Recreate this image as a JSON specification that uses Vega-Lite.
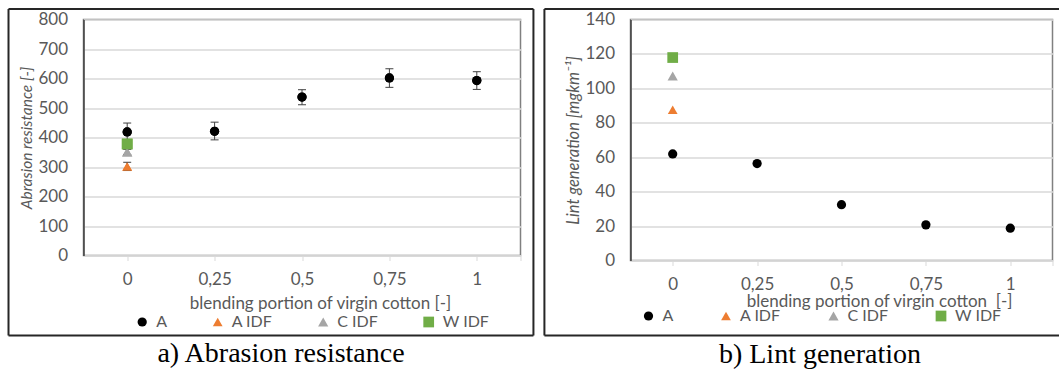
{
  "$schema": "https://vega.github.io/schema/vega-lite/v6.json",
  "background": "white",
  "padding": {"left": 6.5, "top": 6.5, "right": 0, "bottom": 0},
  "spacing": 7,
  "resolve": {"scale": {"color": "independent", "shape": "independent", "size": "independent"}, "legend": {"color": "independent", "shape": "independent"}},
  "datasets": {
    "abr": [
      {"series": "A", "x": 0, "y": 419, "lo": 389, "hi": 449},
      {"series": "A", "x": 0.25, "y": 421, "lo": 392, "hi": 452},
      {"series": "A", "x": 0.5, "y": 537, "lo": 511, "hi": 562},
      {"series": "A", "x": 0.75, "y": 602, "lo": 570, "hi": 633},
      {"series": "A", "x": 1, "y": 593, "lo": 563, "hi": 623},
      {"series": "A IDF", "x": 0, "y": 302, "lo": 288, "hi": 316},
      {"series": "C IDF", "x": 0, "y": 351, "lo": 342, "hi": 360},
      {"series": "W IDF", "x": 0, "y": 378}
    ],
    "lint": [
      {"series": "A", "x": 0, "y": 61.9},
      {"series": "A", "x": 0.25, "y": 56.3},
      {"series": "A", "x": 0.5, "y": 32.4},
      {"series": "A", "x": 0.75, "y": 20.7},
      {"series": "A", "x": 1, "y": 18.8},
      {"series": "A IDF", "x": 0, "y": 87.6},
      {"series": "C IDF", "x": 0, "y": 107.2},
      {"series": "W IDF", "x": 0, "y": 117.9}
    ]
  },
  "hconcat": [
    {
      "width": 437,
      "height": 236,
      "title": {"text": "a) Abrasion resistance", "orient": "bottom", "anchor": "middle", "frame": "group", "dx": -21, "offset": 4, "font": "Liberation Serif", "fontSize": 28, "fontWeight": "normal", "color": "#000000"},
      "layer": [
        {
          "data": {"name": "abr"},
          "mark": {"type": "point", "filled": true, "opacity": 1},
          "encoding": {
            "x": {
              "field": "x", "type": "quantitative",
              "scale": {"domain": [-0.125, 1.125], "nice": false, "zero": false},
              "axis": {
                "values": [0, 0.25, 0.5, 0.75, 1, 1.125], "tickCount": 12,
                "labelExpr": "datum.value > 1.1 ? '' : replace(format(datum.value, '~g'), '.', ',')",
                "title": "blending portion of virgin cotton [-]",
                "grid": false, "labelFlush": false,
                "domainColor": "#d9d9d9", "domainWidth": 1.5,
                "tickColor": "#d9d9d9", "tickSize": 5, "tickWidth": 1,
                "labelPadding": 24, "labelBaseline": "alphabetic",
                "titleX": 236.5, "titleY": 53, "titleBaseline": "alphabetic"
              }
            },
            "y": {
              "field": "y", "type": "quantitative",
              "scale": {"domain": [0, 800], "nice": false},
              "axis": {
                "values": [0, 100, 200, 300, 400, 500, 600, 700, 800], "tickCount": 12, "labelOverlap": false,
                "title": "Abrasion resistance [-]", "titleFontStyle": "italic", "titleFontSize": 15.5,
                "grid": true, "gridColor": "#d9d9d9", "gridWidth": 1.5,
                "ticks": false, "tickSize": 0, "labelPadding": 16,
                "domainColor": "#404040", "domainWidth": 1.5, "titlePadding": 3
              }
            },
            "color": {
              "field": "series", "type": "nominal",
              "scale": {"domain": ["A", "A IDF", "C IDF", "W IDF"], "range": ["#000000", "#ED7D31", "#A5A5A5", "#70AD47"]},
              "legend": {"orient": "none", "legendX": 50.7, "legendY": 294.5, "direction": "horizontal", "columns": 4, "columnPadding": 42.5, "title": null, "symbolSize": 55, "labelOffset": 6}
            },
            "shape": {
              "field": "series", "type": "nominal",
              "scale": {"domain": ["A", "A IDF", "C IDF", "W IDF"], "range": ["circle", "triangle-up", "triangle-up", "square"]},
              "legend": {"orient": "none", "legendX": 50.7, "legendY": 294.5, "direction": "horizontal", "columns": 4, "columnPadding": 42.5, "title": null, "symbolSize": 55, "labelOffset": 6}
            },
            "size": {
              "field": "series", "type": "nominal",
              "scale": {"domain": ["A", "A IDF", "C IDF", "W IDF"], "range": [85, 115, 115, 85]},
              "legend": null
            }
          }
        },
        {
          "data": {"values": [{}]},
          "mark": {"type": "rule", "color": "#262626", "strokeWidth": 2},
          "encoding": {
            "x": {"datum": -0.3395, "type": "quantitative", "axis": {"values": [0, 0.25, 0.5, 0.75, 1, 1.125], "tickCount": 12, "title": "blending portion of virgin cotton [-]"}},
            "y": {"datum": -271, "type": "quantitative", "axis": {"values": [0, 100, 200, 300, 400, 500, 600, 700, 800], "tickCount": 12, "title": "Abrasion resistance [-]"}},
            "y2": {"datum": 835.6}
          }
        },
        {
          "data": {"values": [{}]},
          "mark": {"type": "rule", "color": "#262626", "strokeWidth": 2},
          "encoding": {
            "x": {"datum": 1.162, "type": "quantitative", "axis": {"values": [0, 0.25, 0.5, 0.75, 1, 1.125], "tickCount": 12, "title": "blending portion of virgin cotton [-]"}},
            "y": {"datum": -271, "type": "quantitative", "axis": {"values": [0, 100, 200, 300, 400, 500, 600, 700, 800], "tickCount": 12, "title": "Abrasion resistance [-]"}},
            "y2": {"datum": 835.6}
          }
        },
        {
          "data": {"values": [{}]},
          "mark": {"type": "rule", "color": "#262626", "strokeWidth": 2},
          "encoding": {
            "x": {"datum": -0.3395, "type": "quantitative", "axis": {"values": [0, 0.25, 0.5, 0.75, 1, 1.125], "tickCount": 12, "title": "blending portion of virgin cotton [-]"}},
            "x2": {"datum": 1.162},
            "y": {"datum": 835.6, "type": "quantitative", "axis": {"values": [0, 100, 200, 300, 400, 500, 600, 700, 800], "tickCount": 12, "title": "Abrasion resistance [-]"}}
          }
        },
        {
          "data": {"values": [{}]},
          "mark": {"type": "rule", "color": "#262626", "strokeWidth": 2},
          "encoding": {
            "x": {"datum": -0.3395, "type": "quantitative", "axis": {"values": [0, 0.25, 0.5, 0.75, 1, 1.125], "tickCount": 12, "title": "blending portion of virgin cotton [-]"}},
            "x2": {"datum": 1.162},
            "y": {"datum": -271, "type": "quantitative", "axis": {"values": [0, 100, 200, 300, 400, 500, 600, 700, 800], "tickCount": 12, "title": "Abrasion resistance [-]"}}
          }
        },
        {
          "data": {"name": "abr"},
          "transform": [{"filter": "isValid(datum.lo)"}],
          "mark": {"type": "rule", "color": "#404040", "strokeWidth": 1},
          "encoding": {
            "x": {"field": "x", "type": "quantitative", "axis": {"values": [0, 0.25, 0.5, 0.75, 1, 1.125], "tickCount": 12, "title": "blending portion of virgin cotton [-]"}},
            "y": {"field": "lo", "type": "quantitative", "axis": {"values": [0, 100, 200, 300, 400, 500, 600, 700, 800], "tickCount": 12, "title": "Abrasion resistance [-]"}},
            "y2": {"field": "hi"}
          }
        },
        {
          "data": {"name": "abr"},
          "transform": [{"filter": "isValid(datum.lo)"}],
          "mark": {"type": "point", "shape": "stroke", "size": 64, "strokeWidth": 1, "color": "#404040", "filled": false, "opacity": 1},
          "encoding": {
            "x": {"field": "x", "type": "quantitative", "axis": {"values": [0, 0.25, 0.5, 0.75, 1, 1.125], "tickCount": 12, "title": "blending portion of virgin cotton [-]"}},
            "y": {"field": "lo", "type": "quantitative", "axis": {"values": [0, 100, 200, 300, 400, 500, 600, 700, 800], "tickCount": 12, "title": "Abrasion resistance [-]"}}
          }
        },
        {
          "data": {"name": "abr"},
          "transform": [{"filter": "isValid(datum.hi)"}],
          "mark": {"type": "point", "shape": "stroke", "size": 64, "strokeWidth": 1, "color": "#404040", "filled": false, "opacity": 1},
          "encoding": {
            "x": {"field": "x", "type": "quantitative", "axis": {"values": [0, 0.25, 0.5, 0.75, 1, 1.125], "tickCount": 12, "title": "blending portion of virgin cotton [-]"}},
            "y": {"field": "hi", "type": "quantitative", "axis": {"values": [0, 100, 200, 300, 400, 500, 600, 700, 800], "tickCount": 12, "title": "Abrasion resistance [-]"}}
          }
        },
        {
          "data": {"name": "abr"},
          "mark": {"type": "point", "filled": true, "opacity": 1},
          "encoding": {
            "x": {"field": "x", "type": "quantitative", "axis": {"values": [0, 0.25, 0.5, 0.75, 1, 1.125], "tickCount": 12, "title": "blending portion of virgin cotton [-]"}},
            "y": {"field": "y", "type": "quantitative", "axis": {"values": [0, 100, 200, 300, 400, 500, 600, 700, 800], "tickCount": 12, "title": "Abrasion resistance [-]"}},
            "color": {"field": "series", "type": "nominal"},
            "shape": {"field": "series", "type": "nominal"},
            "size": {"field": "series", "type": "nominal"}
          }
        }
      ]
    },
    {
      "width": 422,
      "height": 241,
      "title": {"text": "b) Lint generation", "orient": "bottom", "anchor": "middle", "frame": "group", "dx": -21.5, "offset": 4, "font": "Liberation Serif", "fontSize": 28, "fontWeight": "normal", "color": "#000000"},
      "layer": [
        {
          "data": {"name": "lint"},
          "mark": {"type": "point", "filled": true, "opacity": 1},
          "encoding": {
            "x": {
              "field": "x", "type": "quantitative",
              "scale": {"domain": [-0.125, 1.125], "nice": false, "zero": false},
              "axis": {
                "values": [0, 0.25, 0.5, 0.75, 1, 1.125], "tickCount": 12,
                "labelExpr": "datum.value > 1.1 ? '' : replace(format(datum.value, '~g'), '.', ',')",
                "title": "blending portion of virgin cotton\u00a0 [-]",
                "grid": false, "labelFlush": false,
                "domainColor": "#d9d9d9", "domainWidth": 1.5,
                "tickColor": "#d9d9d9", "tickSize": 5, "tickWidth": 1,
                "labelPadding": 24, "labelBaseline": "alphabetic",
                "titleX": 248.6, "titleY": 46, "titleBaseline": "alphabetic"
              }
            },
            "y": {
              "field": "y", "type": "quantitative",
              "scale": {"domain": [0, 140], "nice": false},
              "axis": {
                "values": [0, 20, 40, 60, 80, 100, 120, 140], "tickCount": 12,
                "title": "Lint generation [mgkm⁻¹]", "titleFontStyle": "italic", "titleFontSize": 16.5,
                "grid": true, "gridColor": "#d9d9d9", "gridWidth": 1.5,
                "ticks": false, "tickSize": 0, "labelPadding": 16,
                "domainColor": "#404040", "domainWidth": 1.5, "titlePadding": 3
              }
            },
            "color": {
              "field": "series", "type": "nominal",
              "scale": {"domain": ["A", "A IDF", "C IDF", "W IDF"], "range": ["#000000", "#ED7D31", "#A5A5A5", "#70AD47"]},
              "legend": {"orient": "none", "legendX": 10, "legendY": 288.5, "direction": "horizontal", "columns": 4, "columnPadding": 44.5, "title": null, "symbolSize": 55, "labelOffset": 6}
            },
            "shape": {
              "field": "series", "type": "nominal",
              "scale": {"domain": ["A", "A IDF", "C IDF", "W IDF"], "range": ["circle", "triangle-up", "triangle-up", "square"]},
              "legend": {"orient": "none", "legendX": 10, "legendY": 288.5, "direction": "horizontal", "columns": 4, "columnPadding": 44.5, "title": null, "symbolSize": 55, "labelOffset": 6}
            },
            "size": {
              "field": "series", "type": "nominal",
              "scale": {"domain": ["A", "A IDF", "C IDF", "W IDF"], "range": [85, 115, 115, 85]},
              "legend": null
            }
          }
        },
        {
          "data": {"values": [{}]},
          "mark": {"type": "rule", "color": "#262626", "strokeWidth": 2},
          "encoding": {
            "x": {"datum": -0.38, "type": "quantitative", "axis": {"values": [0, 0.25, 0.5, 0.75, 1, 1.125], "tickCount": 12}},
            "y": {"datum": -43.6, "type": "quantitative", "axis": {"values": [0, 20, 40, 60, 80, 100, 120, 140], "tickCount": 12}},
            "y2": {"datum": 146.1}
          }
        },
        {
          "data": {"values": [{}]},
          "mark": {"type": "rule", "color": "#262626", "strokeWidth": 2},
          "encoding": {
            "x": {"datum": -0.38, "type": "quantitative", "axis": {"values": [0, 0.25, 0.5, 0.75, 1, 1.125], "tickCount": 12}},
            "x2": {"datum": 1.148},
            "y": {"datum": 146.1, "type": "quantitative", "axis": {"values": [0, 20, 40, 60, 80, 100, 120, 140], "tickCount": 12}}
          }
        },
        {
          "data": {"values": [{}]},
          "mark": {"type": "rule", "color": "#262626", "strokeWidth": 2},
          "encoding": {
            "x": {"datum": -0.38, "type": "quantitative", "axis": {"values": [0, 0.25, 0.5, 0.75, 1, 1.125], "tickCount": 12}},
            "x2": {"datum": 1.148},
            "y": {"datum": -43.6, "type": "quantitative", "axis": {"values": [0, 20, 40, 60, 80, 100, 120, 140], "tickCount": 12}}
          }
        }
      ]
    }
  ],
  "config": {
    "view": {"stroke": "#808080", "strokeWidth": 1.5},
    "axis": {"labelFont": "Lato", "labelFontSize": 17, "labelColor": "#595959", "titleFont": "Lato", "titleFontSize": 17, "titleFontWeight": "normal", "titleColor": "#595959", "labelOverlap": false},
    "axisY": {"labelOverlap": false, "tickCount": 12},
    "legend": {"labelFont": "Lato", "labelFontSize": 16, "labelColor": "#595959", "padding": 0}
  }
}
